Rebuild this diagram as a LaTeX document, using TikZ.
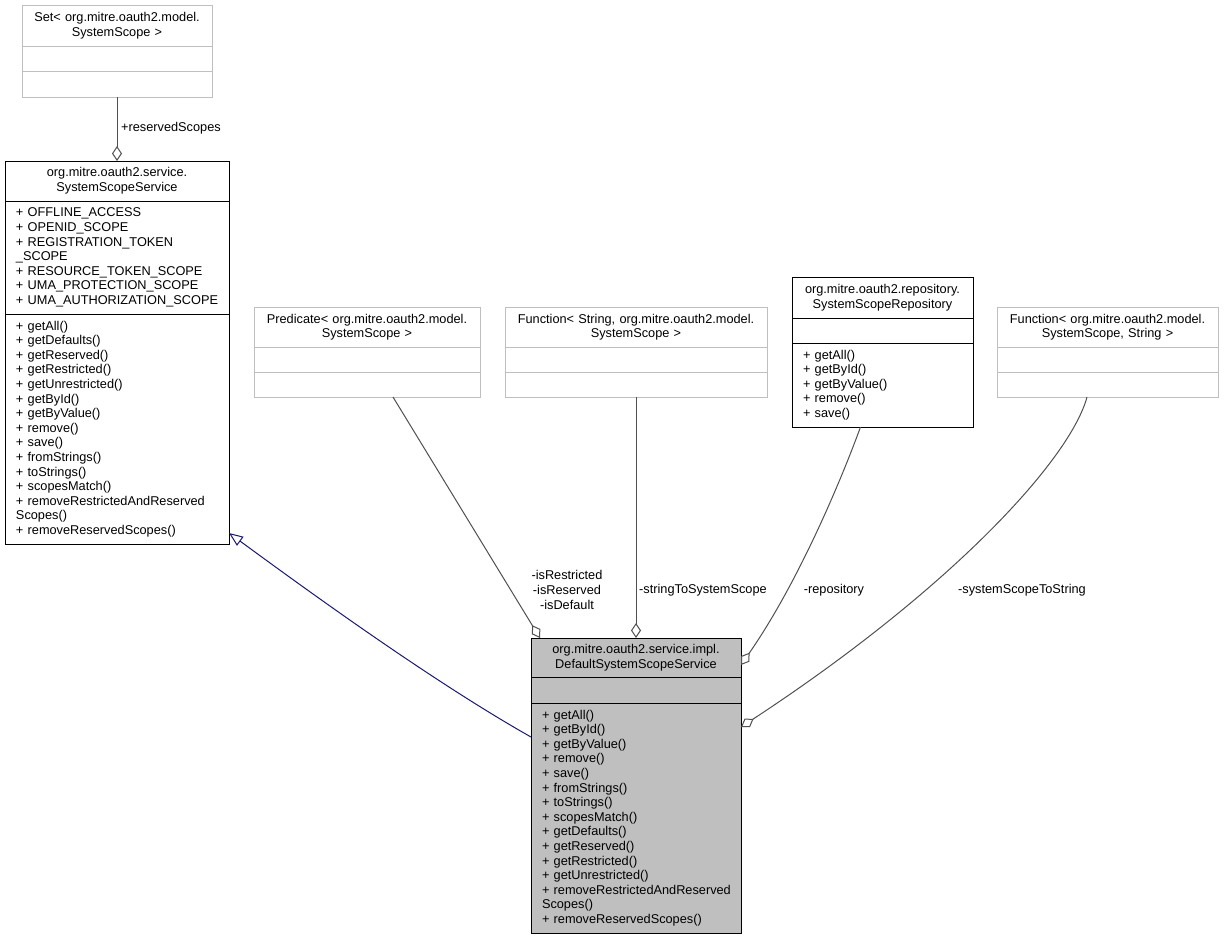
\documentclass[tikz,border=0pt]{standalone}
\usepackage{fontspec}
\setmainfont{Liberation Sans}
\usetikzlibrary{arrows.meta}
\definecolor{tmplgray}{RGB}{191,191,191}
\definecolor{implfill}{RGB}{191,191,191}
\definecolor{edgegray}{RGB}{80,80,80}
\definecolor{inhblue}{RGB}{25,25,112}
\newcommand{\umlsize}{\fontsize{12.75pt}{14.6pt}\selectfont\hyphenpenalty=10000\relax}
\tikzset{
  box/.style={draw=black, line width=1pt, anchor=north west, outer sep=0pt,
    inner xsep=11pt, inner ysep=0pt, align=left, font=\umlsize},
  head/.style={box, inner xsep=4pt, align=center},
  tbox/.style={box, draw=tmplgray},
  thead/.style={head, draw=tmplgray},
  aggr/.style={draw=edgegray, line width=1pt, -{Diamond[fill=white, length=15pt, width=10pt]}},
  inh/.style={draw=inhblue, line width=1pt, -{Triangle[fill=white, length=14pt, width=11pt]}},
  lbl/.style={font=\umlsize, inner sep=0pt, align=center}
}
\begin{document}
\begin{tikzpicture}[x=1pt,y=-1pt]
\useasboundingbox (0,0) rectangle (1224,940);
% Set< SystemScope >
\node[thead, text width=182pt, minimum height=41pt] (set) at (22,5) {Set< org.mitre.oauth2.model.\\SystemScope >};
\node[tbox, text width=168pt, minimum height=25pt] (set-a) at (set.south west) {};
\node[tbox, text width=168pt, minimum height=26pt] (set-m) at (set-a.south west) {};
% SystemScopeService
\node[head, text width=216pt, minimum height=40pt] (sss) at (5,161) {org.mitre.oauth2.service.\\SystemScopeService};
\node[box, text width=202pt, minimum height=113pt] (sss-a) at (sss.south west) {+ OFFLINE\_ACCESS\\+ OPENID\_SCOPE\\+ REGISTRATION\_TOKEN\\\_SCOPE\\+ RESOURCE\_TOKEN\_SCOPE\\+ UMA\_PROTECTION\_SCOPE\\\mbox{+ UMA\_AUTHORIZATION\_SCOPE}};
\node[box, text width=202pt, minimum height=230pt] (sss-m) at (sss-a.south west) {+ getAll()\\+ getDefaults()\\+ getReserved()\\+ getRestricted()\\+ getUnrestricted()\\+ getById()\\+ getByValue()\\+ remove()\\+ save()\\+ fromStrings()\\+ toStrings()\\+ scopesMatch()\\\mbox{+ removeRestrictedAndReserved}\\Scopes()\\+ removeReservedScopes()};
% Predicate
\node[thead, text width=218pt, minimum height=40pt] (pred) at (254,307) {Predicate< org.mitre.oauth2.model.\\SystemScope >};
\node[tbox, text width=204pt, minimum height=25pt] (pred-a) at (pred.south west) {};
\node[tbox, text width=204pt, minimum height=25pt] (pred-m) at (pred-a.south west) {};
% Function< String, SystemScope >
\node[thead, text width=254pt, minimum height=40pt] (fun) at (505,307) {Function< String, org.mitre.oauth2.model.\\SystemScope >};
\node[tbox, text width=240pt, minimum height=25pt] (fun-a) at (fun.south west) {};
\node[tbox, text width=240pt, minimum height=25pt] (fun-m) at (fun-a.south west) {};
% SystemScopeRepository
\node[head, text width=173pt, minimum height=41pt] (repo) at (792,277) {org.mitre.oauth2.repository.\\SystemScopeRepository};
\node[box, text width=159pt, minimum height=25pt] (repo-a) at (repo.south west) {};
\node[box, text width=159pt, minimum height=84pt] (repo-m) at (repo-a.south west) {+ getAll()\\+ getById()\\+ getByValue()\\+ remove()\\+ save()};
% Function< SystemScope, String >
\node[thead, text width=213pt, minimum height=40pt] (fun2) at (997,307) {Function< org.mitre.oauth2.model.\\SystemScope, String >};
\node[tbox, text width=199pt, minimum height=25pt] (fun2-a) at (fun2.south west) {};
\node[tbox, text width=199pt, minimum height=25pt] (fun2-m) at (fun2-a.south west) {};
% DefaultSystemScopeService
\node[head, fill=implfill, text width=202pt, minimum height=39pt] (def) at (531,638) {org.mitre.oauth2.service.impl.\\DefaultSystemScopeService};
\node[box, fill=implfill, text width=188pt, minimum height=26pt] (def-a) at (def.south west) {};
\node[box, fill=implfill, text width=188pt, minimum height=230pt] (def-m) at (def-a.south west) {+ getAll()\\+ getById()\\+ getByValue()\\+ remove()\\+ save()\\+ fromStrings()\\+ toStrings()\\+ scopesMatch()\\+ getDefaults()\\+ getReserved()\\+ getRestricted()\\+ getUnrestricted()\\\mbox{+ removeRestrictedAndReserved}\\Scopes()\\+ removeReservedScopes()};
% connectors
\draw[aggr] (set-m.south) -- (sss.north);
\draw[inh] ([yshift=81pt]def-m.west) .. controls (430,680) and (300,585) .. ([yshift=11pt]sss-m.south east);
\draw[aggr] ([xshift=26pt]pred-m.south) -- ([xshift=-96pt]def.north);
\draw[aggr] (fun-m.south) -- (def.north);
\draw[aggr] ([xshift=-22pt]repo-m.south) .. controls (843,475) and (800,580) .. ([yshift=-7.5pt]def.east);
\draw[aggr] ([xshift=-20.5pt]fun2-m.south) .. controls (1070,460) and (950,590) .. ([yshift=91pt]def-m.east);
% labels
\node[lbl, anchor=west] (l-res) at (121,128) {+reservedScopes};
\node[lbl] (l-pred) at (567,590) {-isRestricted\\-isReserved\\-isDefault};
\node[lbl, anchor=west] (l-fun) at (639,590) {-stringToSystemScope};
\node[lbl] (l-repo) at (834,590) {-repository};
\node[lbl] (l-fun2) at (1022,590) {-systemScopeToString};
\end{tikzpicture}
\end{document}
